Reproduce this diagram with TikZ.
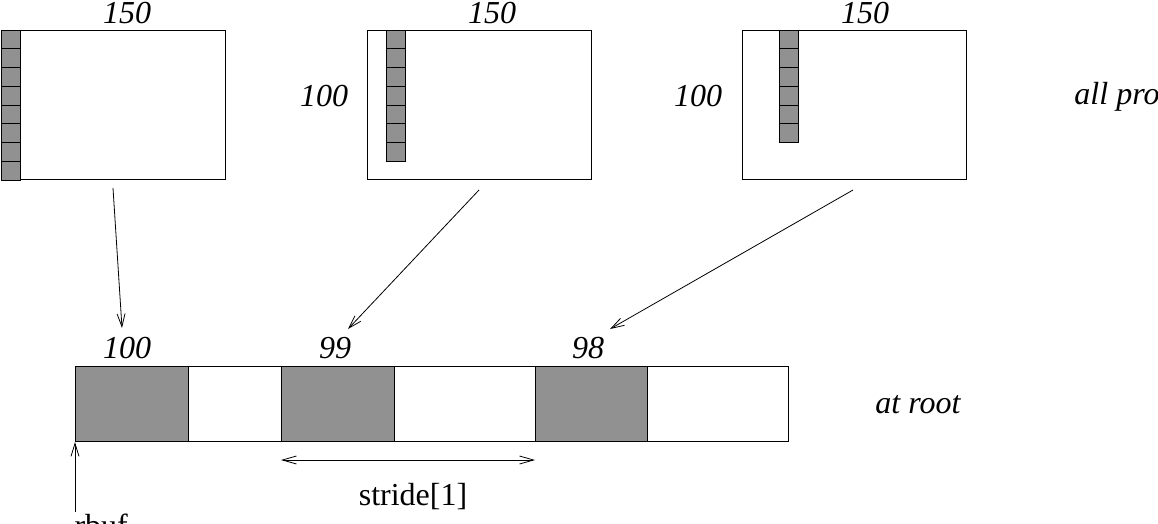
\documentclass[tikz,border=0pt]{standalone}
\usepackage{fontspec}
\setmainfont{Liberation Serif}
\usetikzlibrary{arrows.meta}
\definecolor{cellgray}{gray}{0.57}
\begin{document}
\begin{tikzpicture}[x=1pt,y=-1pt, line width=1pt,
  lbl/.style={font=\fontsize{32}{38}\selectfont\itshape, inner sep=0pt},
  txt/.style={font=\fontsize{32}{38}\selectfont, inner sep=0pt},
  frame/.style={draw, fill=white, minimum width=224pt, minimum height=149pt, anchor=north west, inner sep=0pt},
  cellbox/.style={draw, fill=cellgray, minimum width=19pt, minimum height=18.75pt, anchor=north west, inner sep=0pt},
  ptr/.style={-{Straight Barb[length=13pt,width=8pt]}, line width=0.8pt},
  dptr/.style={{Straight Barb[length=14pt,width=8pt]}-{Straight Barb[length=14pt,width=8pt]}, line width=0.8pt}]
\useasboundingbox (0,0) rectangle (1158,523);
% top process frames
\node[frame] (p1) at (0.5,29.5) {};
\node[frame] (p2) at (366.5,29.5) {};
\node[frame] (p3) at (741.5,29.5) {};
\foreach \i in {0,...,7} {\node[cellbox] (a\i) at (0.5,29.5+18.75*\i) {};}
\foreach \i in {0,...,6} {\node[cellbox] (b\i) at (385.5,29.5+18.75*\i) {};}
\foreach \i in {0,...,5} {\node[cellbox] (c\i) at (778.5,29.5+18.75*\i) {};}
% labels
\node[lbl] (w1) at (127,13.5) {150};
\node[lbl] (w2) at (492,13.5) {150};
\node[lbl] (w3) at (865,13.5) {150};
\node[lbl] (h2) at (324,96) {100};
\node[lbl] (h3) at (698,96) {100};
\node[lbl, anchor=east] (allp) at (1160,97) {all pro};
% root buffer
\node[draw, fill=cellgray, minimum width=113pt, minimum height=75pt, anchor=north west, inner sep=0pt] (g1) at (75,366) {};
\node[draw, fill=white, minimum width=93pt, minimum height=75pt, anchor=north west, inner sep=0pt] (e1) at (188,366) {};
\node[draw, fill=cellgray, minimum width=113pt, minimum height=75pt, anchor=north west, inner sep=0pt] (g2) at (281,366) {};
\node[draw, fill=white, minimum width=141pt, minimum height=75pt, anchor=north west, inner sep=0pt] (e2) at (394,366) {};
\node[draw, fill=cellgray, minimum width=112pt, minimum height=75pt, anchor=north west, inner sep=0pt] (g3) at (535,366) {};
\node[draw, fill=white, minimum width=141pt, minimum height=75pt, anchor=north west, inner sep=0pt] (e3) at (647,366) {};
\node[lbl] (n100) at (127,348) {100};
\node[lbl] (n99) at (335,348) {99};
\node[lbl] (n98) at (588,348) {98};
\node[lbl] (root) at (918,405) {at root};
% arrows
\coordinate (s1) at (113,188);
\coordinate (t1) at (122,328);
\coordinate (s2) at (479,190);
\coordinate (t2) at (348,329);
\coordinate (s3) at (853,190);
\coordinate (t3) at (610,329);
\draw[ptr] (s1) -- (t1);
\draw[ptr] (s2) -- (t2);
\draw[ptr] (s3) -- (t3);
% stride
\coordinate (d1) at (281,460);
\coordinate (d2) at (535,460);
\draw[dptr] (d1) -- (d2);
\node[txt] (stride) at (413,497) {stride[1]};
% rbuf pointer
\node[txt, anchor=base west] (rbuf) at (74,536) {rbuf};
\coordinate (rb) at (75,512);
\coordinate (rt) at (75,442);
\draw[ptr] (rb) -- (rt);
\end{tikzpicture}
\end{document}
